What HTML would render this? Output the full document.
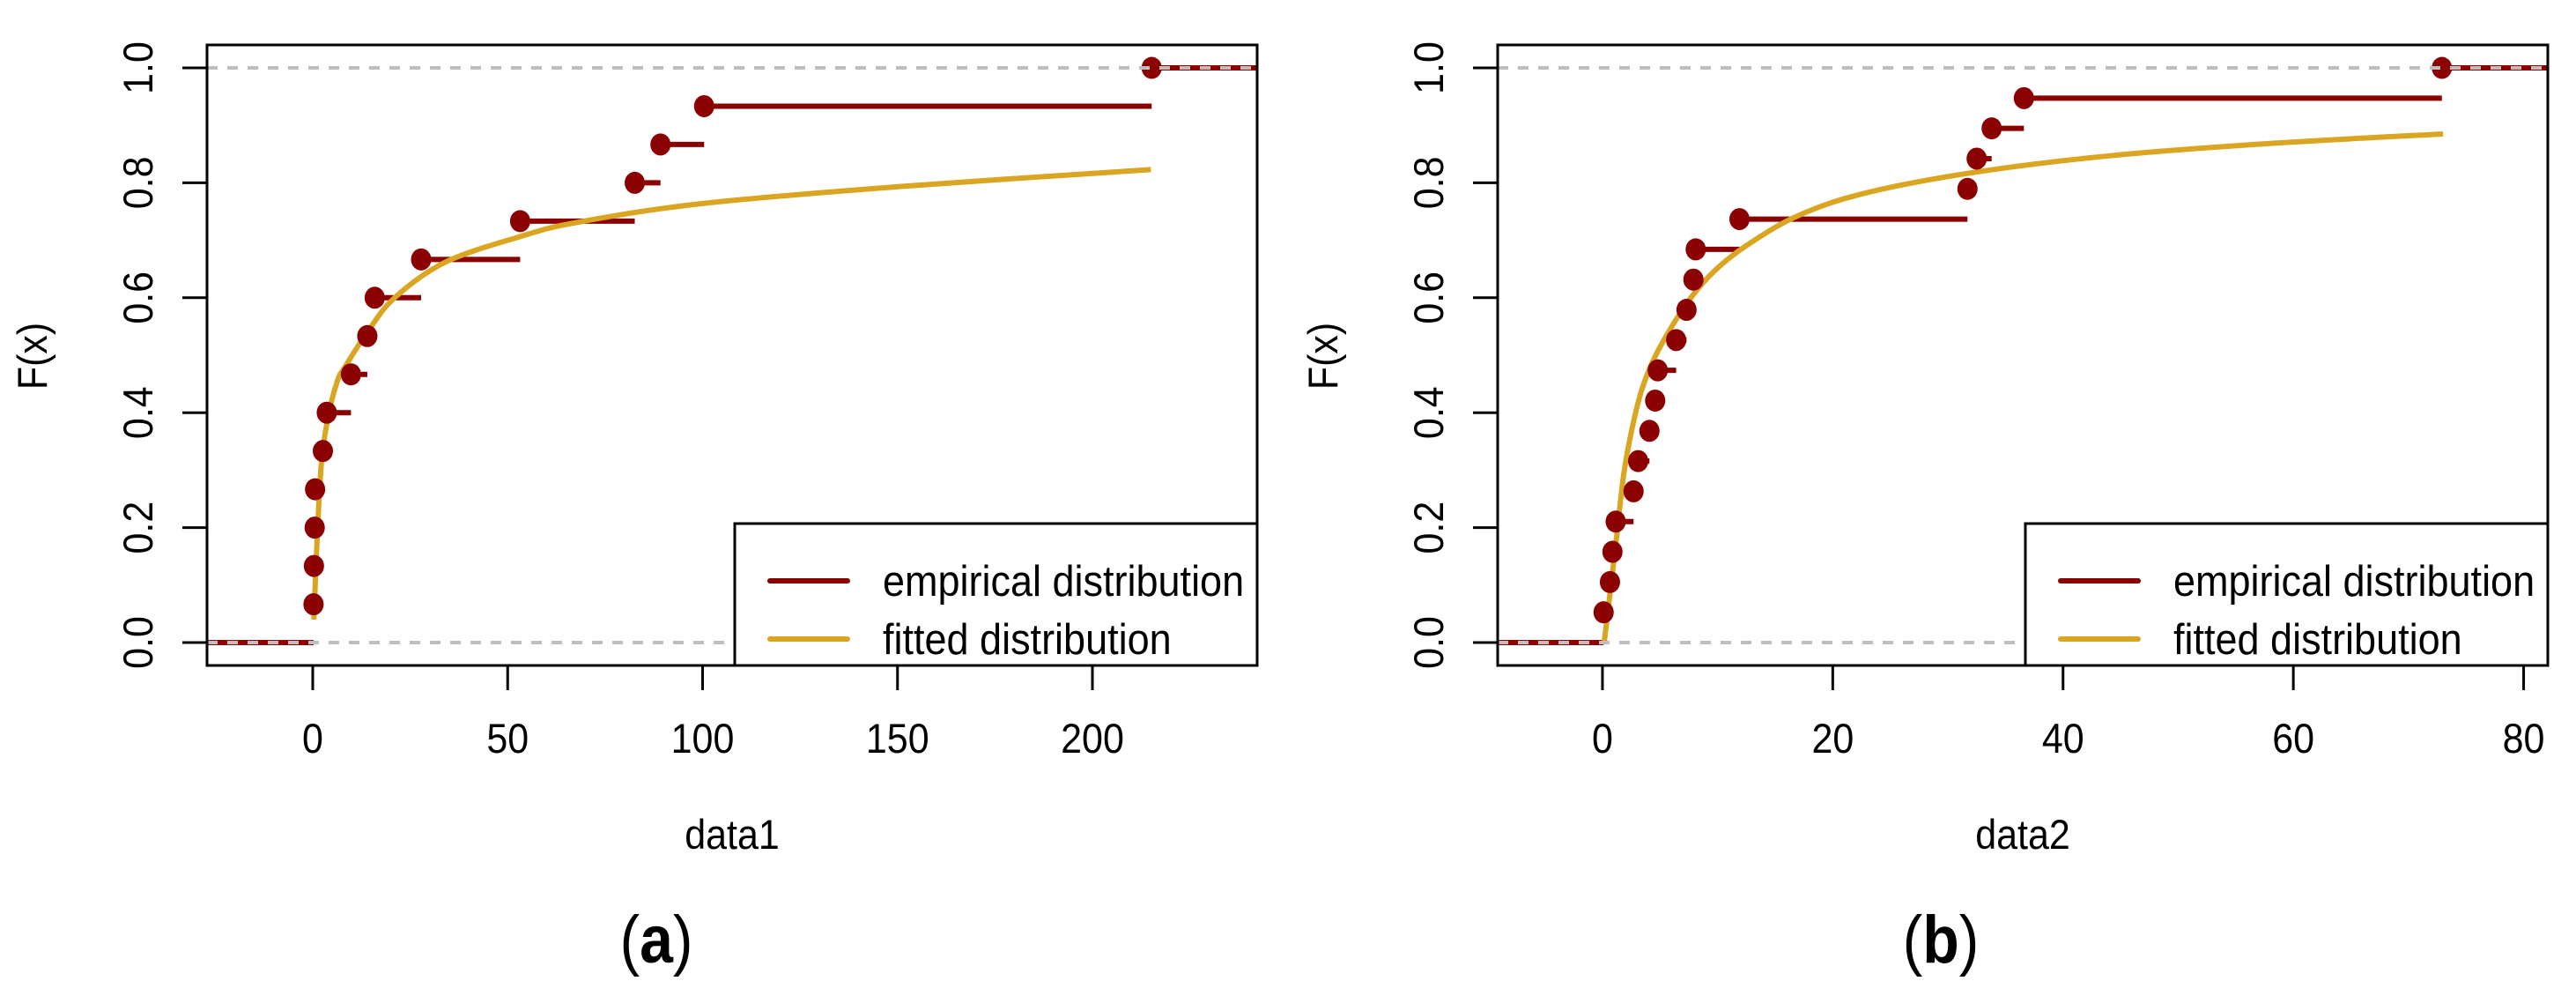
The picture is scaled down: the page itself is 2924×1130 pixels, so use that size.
<!DOCTYPE html>
<html><head><meta charset="utf-8"><style>
html,body{margin:0;padding:0;background:#fff;}
svg{display:block;}
text{font-family:"Liberation Sans",sans-serif;}
</style></head><body>
<svg id="fig" width="2924" height="1130" viewBox="0 0 2924 1130" xmlns="http://www.w3.org/2000/svg"></svg>
<script>
// ---- Panel (a) data ----
const aX = [0.2,0.3,0.5,0.6,2.6,3.6,9.8,14,15.9,27.8,53.2,82.6,89.2,100.4,215.2];
const aFitX = [0.3,1.1,2.2,3.8,6.3,8.3,14,21,34,53,67.7,100,151.8,215];
const aFitY = [0.04,0.178,0.31,0.388,0.455,0.48,0.54,0.6,0.662,0.706,0.731,0.764,0.794,0.823];
const aTicks = [0,50,100,150,200];
// ---- Panel (b) data ----
const bX = [0.1,0.65,0.87,1.15,2.7,3.1,4.08,4.58,4.8,6.4,7.3,7.9,8.1,11.9,31.7,32.5,33.8,36.6,72.9];
const bFitX = [0.15,1.2,1.9,3.0,4.1,5.5,7.6,9.8,12.6,16.9,22.6,31.9,44,58.4,73];
const bFitY = [0,0.178,0.30,0.41,0.477,0.532,0.598,0.648,0.692,0.742,0.781,0.817,0.847,0.869,0.885];
const bTicks = [0,20,40,60,80];
const yTicks = [0,0.2,0.4,0.6,0.8,1.0];

const NS='http://www.w3.org/2000/svg';
const svg=document.getElementById('fig');
const SY=1.1;
function mk(tag,attrs,parent){const e=document.createElementNS(NS,tag);for(const k in attrs)e.setAttribute(k,attrs[k]);(parent||svg).appendChild(e);return e;}
function txt(parent,x,y,str,size,anchor,rot){
  const t=mk('text',{x:0,y:0,'font-size':size,'text-anchor':anchor||'start',
    transform:`translate(${x} ${y})${rot?' rotate(-90)':''} scale(1 ${SY})`},parent);
  t.textContent=str;return t;
}
function smooth(pts){
  let d='M'+pts[0][0].toFixed(1)+','+pts[0][1].toFixed(1);
  for(let i=0;i<pts.length-1;i++){
    const p0=pts[Math.max(0,i-1)],p1=pts[i],p2=pts[i+1],p3=pts[Math.min(pts.length-1,i+2)];
    const c1=[p1[0]+(p2[0]-p0[0])/6,p1[1]+(p2[1]-p0[1])/6];
    const c2=[p2[0]-(p3[0]-p1[0])/6,p2[1]-(p3[1]-p1[1])/6];
    d+=`C${c1[0].toFixed(1)},${c1[1].toFixed(1)} ${c2[0].toFixed(1)},${c2[1].toFixed(1)} ${p2[0].toFixed(1)},${p2[1].toFixed(1)}`;
  }
  return d;
}

function panel(cfg){
  const g=mk('g',{});
  
  
  const L=cfg.left,R=cfg.right,T=51,B=755;
  const sx=v=>L+(v-cfg.xmin)/(cfg.xmax-cfg.xmin)*(R-L);
  const sy=v=>729-v*(729-77);
  const xs=cfg.xs, n=xs.length;
  const red='#8B0000';
  let s=mk('line',{x1:L,x2:sx(xs[0]),y1:sy(0),y2:sy(0),stroke:red,'stroke-width':6},g);
  
  
  for(let i=0;i<n;i++){
    const F=(i+1)/n;
    const xe=i<n-1?sx(xs[i+1]):R;
    const ln=mk('line',{x1:sx(xs[i]),x2:xe,y1:sy(F),y2:sy(F),stroke:red,'stroke-width':6},g);
    
    
  }
  const pts=cfg.fx.map((v,i)=>[sx(v),sy(cfg.fy[i])]);
  const fp=mk('path',{d:smooth(pts),fill:'none',stroke:'#DAA520','stroke-width':6,'stroke-linejoin':'round'},g);
  
  
  for(let i=0;i<n;i++){
    const c=mk('ellipse',{cx:sx(xs[i]),cy:sy((i+1)/n),rx:11.5,ry:12.5,fill:red},g);
    
    
  }
  [0,1].forEach(v=>{
    const dl=mk('line',{x1:L,x2:R,y1:sy(v),y2:sy(v),stroke:'#BEBEBE','stroke-width':4,'stroke-dasharray':'12 11'},g);
    
    
  });
  const lg=mk('g',{},g);
  
  
  mk('rect',{x:cfg.legX,y:594,width:R-cfg.legX,height:B-594,fill:'#fff',stroke:'#000','stroke-width':3},lg);
  mk('line',{x1:cfg.legX+40,x2:cfg.legX+128,y1:659,y2:659,stroke:red,'stroke-width':6,'stroke-linecap':'round'},lg);
  mk('line',{x1:cfg.legX+40,x2:cfg.legX+128,y1:725,y2:725,stroke:'#DAA520','stroke-width':6,'stroke-linecap':'round'},lg);
  let t=txt(lg,cfg.legX+168,676,'empirical distribution',45);
  
  
  t=txt(lg,cfg.legX+168,742,'fitted distribution',45);
  
  
  const bx=mk('rect',{x:L,y:T,width:R-L,height:B-T,fill:'none',stroke:'#000','stroke-width':3},g);
  
  
  cfg.ticks.forEach(v=>{
    mk('line',{x1:sx(v),x2:sx(v),y1:B,y2:783,stroke:'#000','stroke-width':3},g);
    const tl=txt(g,sx(v),854,String(v),43,'middle');
    
    
  });
  yTicks.forEach(v=>{
    mk('line',{x1:L,x2:L-28,y1:sy(v),y2:sy(v),stroke:'#000','stroke-width':3},g);
    const tl=txt(g,L-62,sy(v),v.toFixed(1),43,'middle',true);
    
    
  });
  const yt=txt(g,L-182,404,'F(x)',43,'middle',true);
  
  
  const xt=txt(g,(L+R)/2,963,cfg.xlabel,43,'middle');
  
  
  const cap=mk('text',{x:0,y:0,'font-size':68,'text-anchor':'middle','font-family':'Liberation Serif, serif',transform:`translate(${cfg.capX} 1092) scale(1 1.12)`},g);
  cap.innerHTML='(<tspan font-weight="bold">'+cfg.cap+'</tspan>)';
  
  
}
panel({name:'panel-a',left:235,right:1427,xmin:-27.12,xmax:242.26,xs:aX,fx:aFitX,fy:aFitY,ticks:aTicks,legX:834,xlabel:'data1',cap:'a',capX:745});
panel({name:'panel-b',left:1700,right:2892,xmin:-9.10,xmax:82.1,xs:bX,fx:bFitX,fy:bFitY,ticks:bTicks,legX:2299,xlabel:'data2',cap:'b',capX:2203});
</script>
</body></html>
